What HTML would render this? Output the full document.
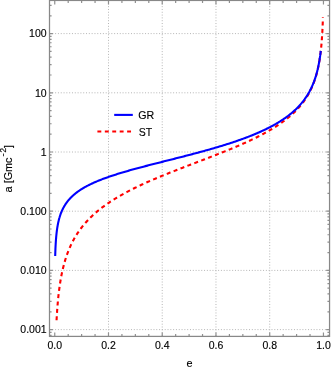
<!DOCTYPE html><html><head><meta charset="utf-8"><title>plot</title><style>html,body{margin:0;padding:0;background:#fff}svg{display:block;will-change:transform}text{font-family:"Liberation Sans",sans-serif;fill:#000;stroke:#000;stroke-width:.13px}</style></head><body>
<svg width="332" height="369" viewBox="0 0 332 369">
<rect width="332" height="369" fill="#fff"/>
<path d="M108.49 0.53V336.40M162.23 0.53V336.40M215.97 0.53V336.40M269.71 0.53V336.40M49.50 329.60H329.55M49.50 270.40H329.55M49.50 211.20H329.55M49.50 152.00H329.55M49.50 92.80H329.55M49.50 33.60H329.55" fill="none" stroke="#b6b6b6" stroke-width="1.0" stroke-dasharray="1 1.81"/>
<path d="M56.56 320.23 L56.57 319.97 L56.59 319.70 L56.61 319.37 L56.62 319.04 L56.64 318.78 L56.66 318.47 L56.68 318.13 L56.70 317.73 L56.72 317.29 L56.75 316.80 L56.77 316.53 L56.78 316.25 L56.80 315.96 L56.82 315.65 L56.84 315.33 L56.86 314.99 L56.88 314.64 L56.90 314.27 L56.93 313.89 L56.95 313.49 L56.98 313.08 L57.01 312.65 L57.04 312.21 L57.07 311.75 L57.10 311.28 L57.13 310.79 L57.17 310.29 L57.21 309.77 L57.24 309.24 L57.28 308.70 L57.33 308.14 L57.37 307.56 L57.42 306.98 L57.46 306.37 L57.51 305.76 L57.56 305.13 L57.62 304.49 L57.67 303.84 L57.73 303.18 L57.79 302.50 L57.85 301.81 L57.91 301.12 L57.98 300.41 L58.05 299.69 L58.12 298.96 L58.19 298.23 L58.27 297.48 L58.34 296.73 L58.42 295.97 L58.51 295.20 L58.59 294.42 L58.68 293.64 L58.77 292.85 L58.87 292.05 L58.97 291.25 L59.07 290.44 L59.17 289.63 L59.28 288.81 L59.39 287.99 L59.50 287.17 L59.62 286.34 L59.73 285.51 L59.86 284.68 L59.98 283.84 L60.11 283.00 L60.25 282.16 L60.38 281.32 L60.52 280.47 L60.67 279.63 L60.81 278.78 L60.97 277.94 L61.12 277.09 L61.28 276.24 L61.44 275.40 L61.61 274.55 L61.78 273.70 L61.96 272.86 L62.14 272.01 L62.32 271.17 L62.51 270.33 L62.70 269.49 L62.90 268.65 L63.10 267.81 L63.31 266.97 L63.52 266.14 L63.73 265.31 L63.95 264.48 L64.18 263.65 L64.40 262.82 L64.64 262.00 L64.88 261.18 L65.12 260.36 L65.37 259.55 L65.62 258.74 L65.88 257.93 L66.15 257.12 L66.42 256.32 L66.69 255.52 L66.97 254.73 L67.26 253.93 L67.55 253.14 L67.84 252.36 L68.14 251.57 L68.45 250.79 L68.76 250.02 L69.08 249.24 L69.40 248.48 L69.73 247.71 L70.07 246.95 L70.41 246.19 L70.76 245.43 L71.11 244.68 L71.47 243.94 L71.83 243.19 L72.20 242.45 L72.58 241.71 L72.96 240.98 L73.35 240.25 L73.75 239.53 L74.15 238.80 L74.56 238.09 L74.97 237.37 L75.39 236.66 L75.82 235.95 L76.25 235.25 L76.69 234.55 L77.13 233.85 L77.58 233.16 L78.04 232.47 L78.51 231.79 L78.98 231.11 L79.46 230.43 L79.94 229.75 L80.43 229.08 L80.93 228.41 L81.43 227.75 L81.95 227.09 L82.46 226.43 L82.99 225.78 L83.52 225.13 L84.06 224.48 L84.60 223.84 L85.15 223.20 L85.71 222.57 L86.28 221.93 L86.85 221.30 L87.43 220.68 L88.01 220.06 L88.61 219.44 L89.20 218.82 L89.81 218.21 L90.42 217.60 L91.04 216.99 L91.67 216.39 L92.30 215.79 L92.94 215.19 L93.59 214.60 L94.24 214.01 L94.90 213.42 L95.57 212.83 L96.25 212.25 L96.93 211.67 L97.61 211.10 L98.31 210.52 L99.01 209.95 L99.72 209.39 L100.43 208.82 L101.15 208.26 L101.88 207.70 L102.62 207.15 L103.36 206.59 L104.11 206.04 L104.86 205.49 L105.62 204.95 L106.39 204.41 L107.17 203.87 L107.95 203.33 L108.73 202.79 L109.53 202.26 L110.33 201.73 L111.13 201.20 L111.95 200.68 L112.77 200.16 L113.59 199.64 L114.42 199.12 L115.26 198.60 L116.10 198.09 L116.95 197.58 L117.81 197.07 L118.67 196.56 L119.54 196.06 L120.41 195.56 L121.29 195.06 L122.18 194.56 L123.07 194.06 L123.97 193.57 L124.87 193.08 L125.78 192.59 L126.69 192.10 L127.61 191.61 L128.53 191.13 L129.46 190.65 L130.40 190.17 L131.34 189.69 L132.28 189.21 L133.23 188.74 L134.19 188.26 L135.15 187.79 L136.11 187.32 L137.08 186.85 L138.06 186.39 L139.03 185.92 L140.02 185.46 L141.01 185.00 L142.00 184.54 L142.99 184.08 L144.00 183.62 L145.00 183.16 L146.01 182.71 L147.02 182.26 L148.04 181.81 L149.06 181.35 L150.08 180.91 L151.11 180.46 L152.14 180.01 L153.18 179.57 L154.22 179.12 L155.26 178.68 L156.30 178.24 L157.35 177.80 L158.40 177.36 L159.46 176.92 L160.51 176.48 L161.57 176.04 L162.63 175.61 L163.70 175.17 L164.77 174.74 L165.83 174.31 L166.91 173.88 L167.98 173.44 L169.06 173.01 L170.13 172.59 L171.21 172.16 L172.29 171.73 L173.38 171.30 L174.46 170.88 L175.55 170.45 L176.64 170.03 L177.72 169.60 L178.81 169.18 L179.90 168.75 L181.00 168.33 L182.09 167.91 L183.18 167.49 L184.28 167.07 L185.37 166.65 L186.47 166.23 L187.56 165.81 L188.66 165.39 L189.75 164.97 L190.85 164.55 L191.94 164.13 L193.04 163.72 L194.13 163.30 L195.23 162.88 L196.32 162.46 L197.41 162.05 L198.51 161.63 L199.60 161.21 L200.69 160.80 L201.78 160.38 L202.87 159.96 L203.95 159.55 L205.04 159.13 L206.12 158.72 L207.21 158.30 L208.29 157.88 L209.37 157.47 L210.45 157.05 L211.52 156.64 L212.60 156.22 L213.67 155.80 L214.74 155.39 L215.80 154.97 L216.87 154.55 L217.93 154.13 L218.99 153.72 L220.05 153.30 L221.10 152.88 L222.15 152.46 L223.20 152.04 L224.24 151.62 L225.29 151.21 L226.32 150.79 L227.36 150.36 L228.39 149.94 L229.42 149.52 L230.44 149.10 L231.46 148.68 L232.48 148.26 L233.49 147.83 L234.50 147.41 L235.51 146.98 L236.51 146.56 L237.50 146.13 L238.50 145.70 L239.48 145.28 L240.47 144.85 L241.45 144.42 L242.42 143.99 L243.39 143.56 L244.35 143.13 L245.31 142.70 L246.27 142.26 L247.22 141.83 L248.16 141.40 L249.10 140.96 L250.04 140.52 L250.97 140.09 L251.89 139.65 L252.81 139.21 L253.72 138.77 L254.63 138.32 L255.54 137.88 L256.43 137.44 L257.32 136.99 L258.21 136.55 L259.09 136.10 L259.96 135.65 L260.83 135.20 L261.69 134.75 L262.55 134.30 L263.40 133.84 L264.24 133.39 L265.08 132.93 L265.91 132.47 L266.74 132.02 L267.55 131.56 L268.37 131.09 L269.17 130.63 L269.97 130.16 L270.77 129.70 L271.56 129.23 L272.34 128.76 L273.11 128.29 L273.88 127.82 L274.64 127.34 L275.39 126.87 L276.14 126.39 L276.88 125.91 L277.62 125.43 L278.35 124.95 L279.07 124.46 L279.78 123.97 L280.49 123.49 L281.19 123.00 L281.89 122.50 L282.58 122.01 L283.26 121.51 L283.93 121.02 L284.60 120.52 L285.26 120.01 L285.91 119.51 L286.56 119.00 L287.20 118.50 L287.83 117.99 L288.46 117.47 L289.08 116.96 L289.69 116.44 L290.30 115.92 L290.90 115.40 L291.49 114.88 L292.07 114.35 L292.65 113.83 L293.22 113.30 L293.79 112.76 L294.35 112.23 L294.90 111.69 L295.44 111.15 L295.98 110.61 L296.51 110.06 L297.04 109.51 L297.56 108.96 L298.07 108.41 L298.57 107.85 L299.07 107.30 L299.56 106.73 L300.04 106.17 L300.52 105.60 L300.99 105.03 L301.46 104.46 L301.92 103.89 L302.37 103.31 L302.81 102.73 L303.25 102.15 L303.69 101.56 L304.11 100.97 L304.53 100.38 L304.95 99.78 L305.35 99.18 L305.76 98.58 L306.15 97.97 L306.54 97.37 L306.92 96.76 L307.30 96.14 L307.67 95.52 L308.03 94.90 L308.39 94.28 L308.74 93.65 L309.09 93.02 L309.43 92.38 L309.77 91.75 L310.10 91.11 L310.42 90.46 L310.74 89.81 L311.05 89.16 L311.36 88.51 L311.66 87.85 L311.96 87.19 L312.25 86.52 L312.53 85.85 L312.81 85.18 L313.09 84.50 L313.36 83.82 L313.62 83.14 L313.88 82.45 L314.13 81.76 L314.38 81.06 L314.62 80.37 L314.86 79.66 L315.10 78.96 L315.33 78.25 L315.55 77.54 L315.77 76.82 L315.99 76.10 L316.20 75.38 L316.40 74.65 L316.60 73.92 L316.80 73.18 L316.99 72.45 L317.18 71.70 L317.36 70.96 L317.54 70.21 L317.72 69.46 L317.89 68.71 L318.06 67.95 L318.22 67.19 L318.38 66.42 L318.54 65.65 L318.69 64.88 L318.83 64.11 L318.98 63.33 L319.12 62.56 L319.26 61.77 L319.39 60.99 L319.52 60.21 L319.64 59.42 L319.77 58.63 L319.89 57.84 L320.00 57.04 L320.12 56.25 L320.23 55.45 L320.33 54.65 L320.43 53.86 L320.54 53.06 L320.63 52.26 L320.73 51.46 L320.82 50.66 L320.91 49.86 L320.99 49.06 L321.08 48.27 L321.16 47.47 L321.24 46.68 L321.31 45.89 L321.38 45.10 L321.46 44.31 L321.52 43.53 L321.59 42.75 L321.65 41.98 L321.71 41.21 L321.77 40.44 L321.83 39.69 L321.89 38.93 L321.94 38.19 L321.99 37.45 L322.04 36.72 L322.09 36.00 L322.13 35.28 L322.18 34.58 L322.22 33.88 L322.26 33.20 L322.30 32.53 L322.33 31.87 L322.37 31.22 L322.40 30.58 L322.43 29.96 L322.46 29.35 L322.49 28.76 L322.52 28.17 L322.55 27.61 L322.57 27.06 L322.60 26.52 L322.62 26.01 L322.64 25.50 L322.66 25.02 L322.68 24.55 L322.70 24.10 L322.72 23.66 L322.73 23.25 L322.75 22.85 L322.77 22.46 L322.78 22.10 L322.79 21.75 L322.80 21.42 L322.82 21.10 L322.83 20.81 L322.84 20.52 L322.85 20.26 L322.85 20.01 L322.87 19.55 L322.88 19.16 L322.90 18.82 L322.90 18.52 L322.92 18.17 L322.92 17.90 L322.93 17.62 L322.94 17.39" fill="none" stroke="#ff0000" stroke-width="2.1" stroke-dasharray="4.0 3.385" stroke-dashoffset="0"/>
<path d="M55.19 256.04 L55.20 255.78 L55.21 255.45 L55.22 255.15 L55.23 254.90 L55.23 254.60 L55.25 254.26 L55.26 253.86 L55.27 253.40 L55.29 252.89 L55.30 252.61 L55.31 252.31 L55.32 252.01 L55.33 251.68 L55.34 251.35 L55.36 250.99 L55.37 250.63 L55.38 250.25 L55.40 249.85 L55.42 249.44 L55.43 249.02 L55.45 248.59 L55.47 248.15 L55.49 247.69 L55.51 247.22 L55.54 246.74 L55.56 246.25 L55.59 245.75 L55.61 245.25 L55.64 244.73 L55.67 244.20 L55.70 243.67 L55.73 243.13 L55.77 242.59 L55.80 242.04 L55.84 241.48 L55.88 240.92 L55.92 240.35 L55.96 239.78 L56.00 239.21 L56.05 238.64 L56.09 238.06 L56.14 237.48 L56.19 236.89 L56.25 236.31 L56.30 235.73 L56.36 235.14 L56.42 234.55 L56.48 233.97 L56.54 233.38 L56.61 232.80 L56.67 232.21 L56.75 231.63 L56.82 231.04 L56.89 230.46 L56.97 229.88 L57.05 229.31 L57.14 228.73 L57.22 228.15 L57.31 227.58 L57.40 227.01 L57.50 226.45 L57.59 225.88 L57.69 225.32 L57.80 224.76 L57.90 224.20 L58.01 223.65 L58.12 223.10 L58.24 222.55 L58.36 222.01 L58.48 221.46 L58.61 220.92 L58.74 220.39 L58.87 219.86 L59.00 219.33 L59.14 218.80 L59.29 218.28 L59.43 217.76 L59.59 217.25 L59.74 216.73 L59.90 216.22 L60.06 215.72 L60.23 215.22 L60.40 214.72 L60.57 214.22 L60.75 213.73 L60.94 213.24 L61.12 212.75 L61.32 212.27 L61.51 211.79 L61.71 211.31 L61.92 210.84 L62.13 210.37 L62.34 209.91 L62.56 209.44 L62.79 208.98 L63.01 208.53 L63.25 208.07 L63.49 207.62 L63.73 207.17 L63.98 206.73 L64.23 206.29 L64.49 205.85 L64.75 205.42 L65.02 204.98 L65.29 204.55 L65.57 204.13 L65.86 203.70 L66.15 203.28 L66.44 202.87 L66.74 202.45 L67.05 202.04 L67.36 201.63 L67.68 201.22 L68.00 200.82 L68.33 200.42 L68.66 200.02 L69.00 199.62 L69.35 199.23 L69.70 198.84 L70.06 198.45 L70.42 198.06 L70.79 197.68 L71.17 197.30 L71.55 196.92 L71.93 196.55 L72.33 196.17 L72.73 195.80 L73.13 195.43 L73.55 195.07 L73.97 194.70 L74.39 194.34 L74.82 193.98 L75.26 193.62 L75.70 193.27 L76.15 192.91 L76.61 192.56 L77.07 192.21 L77.54 191.87 L78.02 191.52 L78.50 191.18 L78.99 190.84 L79.49 190.50 L79.99 190.16 L80.50 189.83 L81.02 189.49 L81.54 189.16 L82.07 188.83 L82.61 188.50 L83.15 188.18 L83.70 187.85 L84.26 187.53 L84.82 187.21 L85.39 186.89 L85.97 186.57 L86.55 186.26 L87.14 185.94 L87.74 185.63 L88.34 185.32 L88.95 185.01 L89.57 184.70 L90.20 184.39 L90.83 184.09 L91.47 183.78 L92.11 183.48 L92.76 183.18 L93.42 182.88 L94.09 182.58 L94.76 182.28 L95.44 181.99 L96.12 181.69 L96.82 181.40 L97.52 181.11 L98.22 180.81 L98.93 180.52 L99.65 180.24 L100.38 179.95 L101.11 179.66 L101.85 179.37 L102.60 179.09 L103.35 178.81 L104.11 178.52 L104.87 178.24 L105.65 177.96 L106.42 177.68 L107.21 177.40 L108.00 177.12 L108.80 176.84 L109.60 176.57 L110.41 176.29 L111.23 176.02 L112.05 175.74 L112.88 175.47 L113.72 175.19 L114.56 174.92 L115.41 174.65 L116.26 174.38 L117.12 174.11 L117.98 173.84 L118.85 173.57 L119.73 173.30 L120.61 173.03 L121.50 172.76 L122.40 172.49 L123.30 172.23 L124.20 171.96 L125.11 171.69 L126.03 171.43 L126.95 171.16 L127.88 170.89 L128.81 170.63 L129.75 170.36 L130.69 170.10 L131.63 169.83 L132.59 169.57 L133.54 169.31 L134.51 169.04 L135.47 168.78 L136.44 168.51 L137.42 168.25 L138.40 167.99 L139.38 167.72 L140.37 167.46 L141.37 167.19 L142.37 166.93 L143.37 166.67 L144.37 166.40 L145.38 166.14 L146.40 165.87 L147.41 165.61 L148.44 165.34 L149.46 165.08 L150.49 164.81 L151.52 164.55 L152.56 164.28 L153.59 164.02 L154.64 163.75 L155.68 163.49 L156.73 163.22 L157.78 162.95 L158.83 162.69 L159.89 162.42 L160.95 162.15 L162.01 161.88 L163.07 161.61 L164.14 161.34 L165.21 161.07 L166.28 160.80 L167.35 160.53 L168.42 160.26 L169.50 159.99 L170.58 159.72 L171.66 159.44 L172.74 159.17 L173.82 158.90 L174.91 158.62 L175.99 158.35 L177.08 158.07 L178.17 157.79 L179.25 157.51 L180.34 157.24 L181.43 156.96 L182.52 156.68 L183.62 156.40 L184.71 156.12 L185.80 155.83 L186.89 155.55 L187.98 155.27 L189.08 154.98 L190.17 154.70 L191.26 154.41 L192.35 154.12 L193.44 153.83 L194.53 153.54 L195.62 153.25 L196.71 152.96 L197.80 152.67 L198.89 152.38 L199.97 152.08 L201.06 151.79 L202.14 151.49 L203.23 151.19 L204.31 150.90 L205.39 150.60 L206.46 150.30 L207.54 149.99 L208.62 149.69 L209.69 149.39 L210.76 149.08 L211.83 148.78 L212.89 148.47 L213.96 148.16 L215.02 147.85 L216.08 147.54 L217.13 147.23 L218.19 146.91 L219.24 146.60 L220.29 146.28 L221.33 145.96 L222.37 145.65 L223.41 145.33 L224.45 145.00 L225.48 144.68 L226.51 144.36 L227.53 144.03 L228.55 143.70 L229.57 143.38 L230.58 143.05 L231.59 142.72 L232.60 142.38 L233.60 142.05 L234.60 141.71 L235.59 141.38 L236.58 141.04 L237.57 140.70 L238.55 140.36 L239.52 140.01 L240.49 139.67 L241.46 139.32 L242.42 138.98 L243.38 138.63 L244.33 138.27 L245.28 137.92 L246.22 137.57 L247.16 137.21 L248.09 136.86 L249.02 136.50 L249.94 136.14 L250.85 135.77 L251.76 135.41 L252.67 135.04 L253.57 134.68 L254.46 134.31 L255.35 133.94 L256.23 133.56 L257.11 133.19 L257.98 132.81 L258.85 132.44 L259.71 132.06 L260.56 131.68 L261.41 131.29 L262.25 130.91 L263.08 130.52 L263.91 130.13 L264.74 129.74 L265.55 129.35 L266.36 128.96 L267.17 128.56 L267.96 128.16 L268.76 127.76 L269.54 127.36 L270.32 126.96 L271.09 126.55 L271.86 126.14 L272.62 125.73 L273.37 125.32 L274.11 124.91 L274.85 124.49 L275.59 124.08 L276.31 123.66 L277.03 123.24 L277.74 122.81 L278.45 122.39 L279.15 121.96 L279.84 121.53 L280.53 121.10 L281.21 120.67 L281.88 120.23 L282.54 119.79 L283.20 119.35 L283.85 118.91 L284.50 118.47 L285.14 118.02 L285.77 117.57 L286.39 117.12 L287.01 116.67 L287.62 116.22 L288.23 115.76 L288.82 115.30 L289.41 114.84 L290.00 114.38 L290.58 113.92 L291.15 113.45 L291.71 112.98 L292.27 112.51 L292.82 112.04 L293.36 111.56 L293.89 111.08 L294.42 110.60 L294.95 110.12 L295.46 109.64 L295.97 109.15 L296.48 108.66 L296.97 108.17 L297.46 107.68 L297.94 107.19 L298.42 106.69 L298.89 106.19 L299.35 105.69 L299.81 105.19 L300.26 104.68 L300.71 104.18 L301.14 103.67 L301.58 103.16 L302.00 102.64 L302.42 102.13 L302.83 101.61 L303.24 101.09 L303.64 100.57 L304.03 100.05 L304.42 99.53 L304.80 99.00 L305.18 98.47 L305.55 97.94 L305.91 97.41 L306.27 96.88 L306.62 96.34 L306.96 95.81 L307.30 95.27 L307.64 94.73 L307.97 94.19 L308.29 93.65 L308.61 93.10 L308.92 92.56 L309.22 92.01 L309.53 91.46 L309.82 90.91 L310.11 90.36 L310.39 89.81 L310.67 89.26 L310.95 88.71 L311.22 88.15 L311.48 87.60 L311.74 87.04 L311.99 86.49 L312.24 85.93 L312.48 85.37 L312.72 84.82 L312.95 84.26 L313.18 83.70 L313.40 83.14 L313.62 82.58 L313.84 82.03 L314.05 81.47 L314.25 80.91 L314.45 80.36 L314.65 79.80 L314.84 79.25 L315.03 78.69 L315.21 78.14 L315.39 77.59 L315.57 77.04 L315.74 76.49 L315.90 75.95 L316.07 75.40 L316.23 74.86 L316.38 74.32 L316.53 73.78 L316.68 73.25 L316.82 72.72 L316.96 72.19 L317.10 71.66 L317.23 71.14 L317.36 70.62 L317.49 70.11 L317.61 69.59 L317.73 69.09 L317.84 68.58 L317.95 68.09 L318.06 67.59 L318.17 67.11 L318.27 66.62 L318.37 66.14 L318.47 65.67 L318.57 65.21 L318.66 64.75 L318.74 64.29 L318.83 63.84 L318.91 63.40 L318.99 62.97 L319.07 62.54 L319.15 62.12 L319.22 61.71 L319.29 61.30 L319.36 60.91 L319.42 60.52 L319.49 60.13 L319.55 59.76 L319.61 59.39 L319.67 59.04 L319.72 58.69 L319.77 58.34 L319.82 58.01 L319.87 57.69 L319.92 57.37 L319.97 57.07 L320.01 56.77 L320.05 56.48 L320.09 56.20 L320.13 55.93 L320.16 55.67 L320.20 55.41 L320.27 54.93 L320.33 54.48 L320.38 54.07 L320.43 53.69 L320.47 53.34 L320.51 53.02 L320.55 52.73 L320.58 52.47 L320.62 52.13 L320.66 51.85 L320.69 51.54 L320.73 51.27 L320.76 51.01 L320.77 50.87" fill="none" stroke="#0000ff" stroke-width="2.1"/>
<path d="M114.2 114.9H132.8" stroke="#0000ff" stroke-width="2.1" fill="none"/>
<path d="M97.4 131.5H131.1" stroke="#ff0000" stroke-width="2.1" stroke-dasharray="3.9 3.53" fill="none"/>
<text x="138.3" y="118.8" font-size="10.65">GR</text>
<text x="138.8" y="135.6" font-size="10.5">ST</text>
<path d="M54.75 336.40v-4.0M54.75 0.45v4.0M68.19 336.40v-2.5M68.19 0.45v2.5M81.62 336.40v-2.5M81.62 0.45v2.5M95.06 336.40v-2.5M95.06 0.45v2.5M108.49 336.40v-4.0M108.49 0.45v4.0M121.92 336.40v-2.5M121.92 0.45v2.5M135.36 336.40v-2.5M135.36 0.45v2.5M148.80 336.40v-2.5M148.80 0.45v2.5M162.23 336.40v-4.0M162.23 0.45v4.0M175.66 336.40v-2.5M175.66 0.45v2.5M189.10 336.40v-2.5M189.10 0.45v2.5M202.53 336.40v-2.5M202.53 0.45v2.5M215.97 336.40v-4.0M215.97 0.45v4.0M229.41 336.40v-2.5M229.41 0.45v2.5M242.84 336.40v-2.5M242.84 0.45v2.5M256.27 336.40v-2.5M256.27 0.45v2.5M269.71 336.40v-4.0M269.71 0.45v4.0M283.14 336.40v-2.5M283.14 0.45v2.5M296.58 336.40v-2.5M296.58 0.45v2.5M310.01 336.40v-2.5M310.01 0.45v2.5M323.45 336.40v-4.0M323.45 0.45v4.0M49.50 335.34h2.1M329.55 335.34h-2.1M49.50 332.31h2.1M329.55 332.31h-2.1M49.50 329.60h3.4M329.55 329.60h-3.4M49.50 311.78h2.1M329.55 311.78h-2.1M49.50 301.35h2.1M329.55 301.35h-2.1M49.50 293.96h2.1M329.55 293.96h-2.1M49.50 288.22h2.1M329.55 288.22h-2.1M49.50 283.53h2.1M329.55 283.53h-2.1M49.50 279.57h2.1M329.55 279.57h-2.1M49.50 276.14h2.1M329.55 276.14h-2.1M49.50 273.11h2.1M329.55 273.11h-2.1M49.50 270.40h3.4M329.55 270.40h-3.4M49.50 252.58h2.1M329.55 252.58h-2.1M49.50 242.15h2.1M329.55 242.15h-2.1M49.50 234.76h2.1M329.55 234.76h-2.1M49.50 229.02h2.1M329.55 229.02h-2.1M49.50 224.33h2.1M329.55 224.33h-2.1M49.50 220.37h2.1M329.55 220.37h-2.1M49.50 216.94h2.1M329.55 216.94h-2.1M49.50 213.91h2.1M329.55 213.91h-2.1M49.50 211.20h3.4M329.55 211.20h-3.4M49.50 193.38h2.1M329.55 193.38h-2.1M49.50 182.95h2.1M329.55 182.95h-2.1M49.50 175.56h2.1M329.55 175.56h-2.1M49.50 169.82h2.1M329.55 169.82h-2.1M49.50 165.13h2.1M329.55 165.13h-2.1M49.50 161.17h2.1M329.55 161.17h-2.1M49.50 157.74h2.1M329.55 157.74h-2.1M49.50 154.71h2.1M329.55 154.71h-2.1M49.50 152.00h3.4M329.55 152.00h-3.4M49.50 134.18h2.1M329.55 134.18h-2.1M49.50 123.75h2.1M329.55 123.75h-2.1M49.50 116.36h2.1M329.55 116.36h-2.1M49.50 110.62h2.1M329.55 110.62h-2.1M49.50 105.93h2.1M329.55 105.93h-2.1M49.50 101.97h2.1M329.55 101.97h-2.1M49.50 98.54h2.1M329.55 98.54h-2.1M49.50 95.51h2.1M329.55 95.51h-2.1M49.50 92.80h3.4M329.55 92.80h-3.4M49.50 74.98h2.1M329.55 74.98h-2.1M49.50 64.55h2.1M329.55 64.55h-2.1M49.50 57.16h2.1M329.55 57.16h-2.1M49.50 51.42h2.1M329.55 51.42h-2.1M49.50 46.73h2.1M329.55 46.73h-2.1M49.50 42.77h2.1M329.55 42.77h-2.1M49.50 39.34h2.1M329.55 39.34h-2.1M49.50 36.31h2.1M329.55 36.31h-2.1M49.50 33.60h3.4M329.55 33.60h-3.4M49.50 15.78h2.1M329.55 15.78h-2.1M49.50 5.35h2.1M329.55 5.35h-2.1" fill="none" stroke="#909090" stroke-width="1.2"/>
<rect x="49.5" y="0.45" width="280.05" height="335.95" fill="none" stroke="#888888" stroke-width="1.25"/>
<text x="46.6" y="37" text-anchor="end" font-size="10.5">100</text>
<text x="46.6" y="97" text-anchor="end" font-size="10.5">10</text>
<text x="46.6" y="156" text-anchor="end" font-size="10.5">1</text>
<text x="46.6" y="215" text-anchor="end" font-size="10.5">0.100</text>
<text x="46.6" y="274" text-anchor="end" font-size="10.5">0.010</text>
<text x="46.6" y="333" text-anchor="end" font-size="10.5">0.001</text>
<text x="54.75" y="349.0" text-anchor="middle" font-size="10.5">0.0</text>
<text x="108.49" y="349.0" text-anchor="middle" font-size="10.5">0.2</text>
<text x="162.23" y="349.0" text-anchor="middle" font-size="10.5">0.4</text>
<text x="215.97" y="349.0" text-anchor="middle" font-size="10.5">0.6</text>
<text x="269.71" y="349.0" text-anchor="middle" font-size="10.5">0.8</text>
<text x="323.45" y="349.0" text-anchor="middle" font-size="10.5">1.0</text>
<text x="189.5" y="366.6" text-anchor="middle" font-size="10.85">e</text>
<g transform="translate(12.1 192.4) rotate(-90)"><text x="0" y="0" font-size="10.85">a [Gmc</text><text y="-5.8" font-size="8.2"><tspan x="36.0" font-size="9.2">-</tspan><tspan x="39.95">2</tspan></text><text x="44.4" y="0" font-size="10.85">]</text></g>
</svg></body></html>
